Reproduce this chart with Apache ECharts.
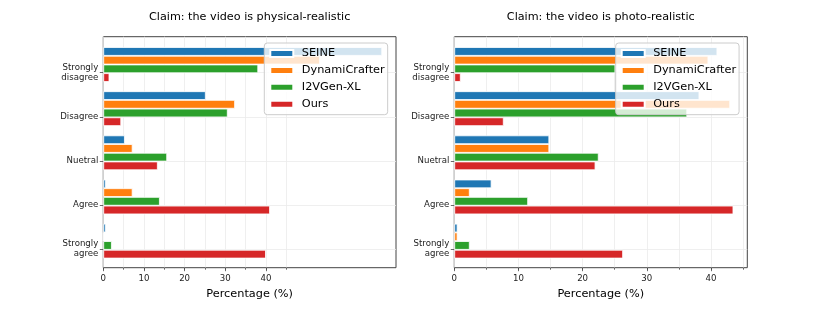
<!DOCTYPE html>
<html>
<head>
<meta charset="utf-8">
<script src="https://cdn.jsdelivr.net/npm/echarts@6/dist/echarts.min.js"></script>
<style>
  html, body { margin: 0; padding: 0; background: #fff; }
  #chart { width: 830px; height: 312px; }
</style>
</head>
<body>
<div id="chart"></div>
<script>
// ---- data ----
const categories = ['Strongly\ndisagree', 'Disagree', 'Nuetral', 'Agree', 'Strongly\nagree'];
const seriesNames = ['SEINE', 'DynamiCrafter', 'I2VGen-XL', 'Ours'];
const titles = ['Claim: the video is physical-realistic', 'Claim: the video is photo-realistic'];
const xAxisName = 'Percentage (%)';
const xTickLabels = [0, 10, 20, 30, 40];
const xMinorTicks = [0, 5, 10, 15, 20, 25, 30, 35, 40, 45];

// physical-realistic
const physSEINE = [68.6, 25.2, 5.3, 0.6, 0.6];
const physDynamiCrafter = [53.3, 32.4, 7.2, 7.2, 0];
const physI2VGen = [38.1, 30.6, 15.7, 13.9, 2.1];
const physOurs = [1.5, 4.4, 13.4, 41.0, 40.0];
const physXMax = 72.0;

// photo-realistic
const photoSEINE = [41.0, 38.2, 14.8, 5.8, 0.5];
const photoDynamiCrafter = [39.6, 43.0, 14.8, 2.4, 0.5];
const photoI2VGen = [25.1, 36.3, 22.5, 11.5, 2.4];
const photoOurs = [1.0, 7.7, 22.0, 43.5, 26.3];
const photoXMax = 45.67;

const colors = ['#1f77b4', '#ff7f0e', '#2ca02c', '#d62728'];
const FONT = 'DejaVu Sans';

const panels = [
  { title: titles[0], data: [physSEINE, physDynamiCrafter, physI2VGen, physOurs], xMax: physXMax, left: 103.3, rightEdge: 396.0, legendLeft: 264.3 },
  { title: titles[1], data: [photoSEINE, photoDynamiCrafter, photoI2VGen, photoOurs], xMax: photoXMax, left: 454.3, rightEdge: 747.3, legendLeft: 615.7 }
];

const W = 830, H = 312;
const frameTop = 36.7, frameBottom = 267.7;
const band = 44.15;
const firstCenter = 64.5;
const tickShift = 8.15;

const grid = [], xAxis = [], yAxis = [], series = [], legend = [], graphic = [];

panels.forEach((p, pi) => {
  const right = W - p.rightEdge;
  const g0 = pi * 3, g1 = pi * 3 + 1, g2 = pi * 3 + 2;
  // frame grid
  grid.push({ left: p.left, right: right, top: frameTop, bottom: H - frameBottom, show: true, borderColor: '#444', borderWidth: 1, backgroundColor: 'transparent', containLabel: false });
  // label grid
  const lblTop = firstCenter + tickShift;
  const lblBottom = lblTop + band * (categories.length - 1);
  grid.push({ left: p.left, right: right, top: lblTop, bottom: H - lblBottom, show: false, containLabel: false });
  // bar grid
  const barTop = firstCenter - band / 2;
  const barBottom = barTop + band * categories.length;
  grid.push({ left: p.left, right: right, top: barTop, bottom: H - barBottom, show: false, containLabel: false });

  xAxis.push({
    gridIndex: g0, type: 'value', min: 0, max: p.xMax,
    axisLine: { show: false },
    axisTick: { show: true, length: 2, customValues: xMinorTicks, lineStyle: { color: '#444', width: 0.8 } },
    axisLabel: { show: true, customValues: xTickLabels, fontSize: 8.6, color: '#222', fontFamily: FONT, margin: 6.5 },
    splitLine: { show: true, lineStyle: { color: '#ebebeb', width: 0.8 } },
    name: xAxisName, nameLocation: 'middle', nameGap: 14,
    nameTextStyle: { fontSize: 11.3, color: '#000', fontFamily: FONT }
  });
  xAxis.push({ gridIndex: g1, type: 'value', min: 0, max: p.xMax, show: false });
  xAxis.push({
    gridIndex: g2, type: 'value', min: 0, max: p.xMax, show: true, offset: frameBottom - barBottom,
    axisLine: { show: false },
    axisTick: { show: true, length: 3.5, customValues: xTickLabels, lineStyle: { color: '#444', width: 0.8 } },
    axisLabel: { show: false }, splitLine: { show: false }
  });

  yAxis.push({ gridIndex: g0, type: 'value', min: 0, max: 1, show: false });
  yAxis.push({
    gridIndex: g1, type: 'category', data: categories, inverse: true, boundaryGap: false,
    axisLine: { show: false },
    axisTick: { show: true, length: 3.5, interval: 0, lineStyle: { color: '#444', width: 0.8 } },
    axisLabel: { show: true, interval: 0, margin: 5, fontSize: 8.6, lineHeight: 10, color: '#222', fontFamily: FONT, align: 'right', padding: [3.5, 0, 0, 0] },
    splitLine: { show: true, interval: 0, lineStyle: { color: '#ebebeb', width: 0.8 } }
  });
  yAxis.push({ gridIndex: g2, type: 'category', data: categories, inverse: true, show: false });

  seriesNames.forEach((name, si) => {
    series.push({
      name: name, type: 'bar', xAxisIndex: g2, yAxisIndex: g2,
      data: p.data[si], barWidth: 8.7, barGap: '0%',
      itemStyle: { color: colors[si], borderColor: '#fff', borderWidth: 0.8 },
      silent: true, animation: false
    });
  });

  legend.push({
    data: seriesNames, orient: 'vertical', left: p.legendLeft, top: 43,
    itemWidth: 23, itemHeight: 7, itemGap: 3.9, icon: 'rect',
    padding: [4, 3, 4, 5],
    backgroundColor: 'rgba(255,255,255,0.8)', borderColor: '#cccccc', borderWidth: 1, borderRadius: 3,
    selectedMode: false,
    textStyle: { fontSize: 11.3, lineHeight: 13, color: '#000', fontFamily: FONT, padding: [0, 0, 0, 3.5] }
  });

  graphic.push({
    type: 'text', x: (p.left + p.rightEdge) / 2, y: 16.7,
    style: { text: p.title, align: 'center', verticalAlign: 'middle', fontSize: 11.2, fontFamily: FONT, fill: '#000' }
  });
});

const chart = echarts.init(document.getElementById('chart'), null, { renderer: 'canvas' });
chart.setOption({
  animation: false,
  backgroundColor: '#fff',
  textStyle: { fontFamily: FONT },
  grid, xAxis, yAxis, series, legend, graphic
});
</script>
</body>
</html>
